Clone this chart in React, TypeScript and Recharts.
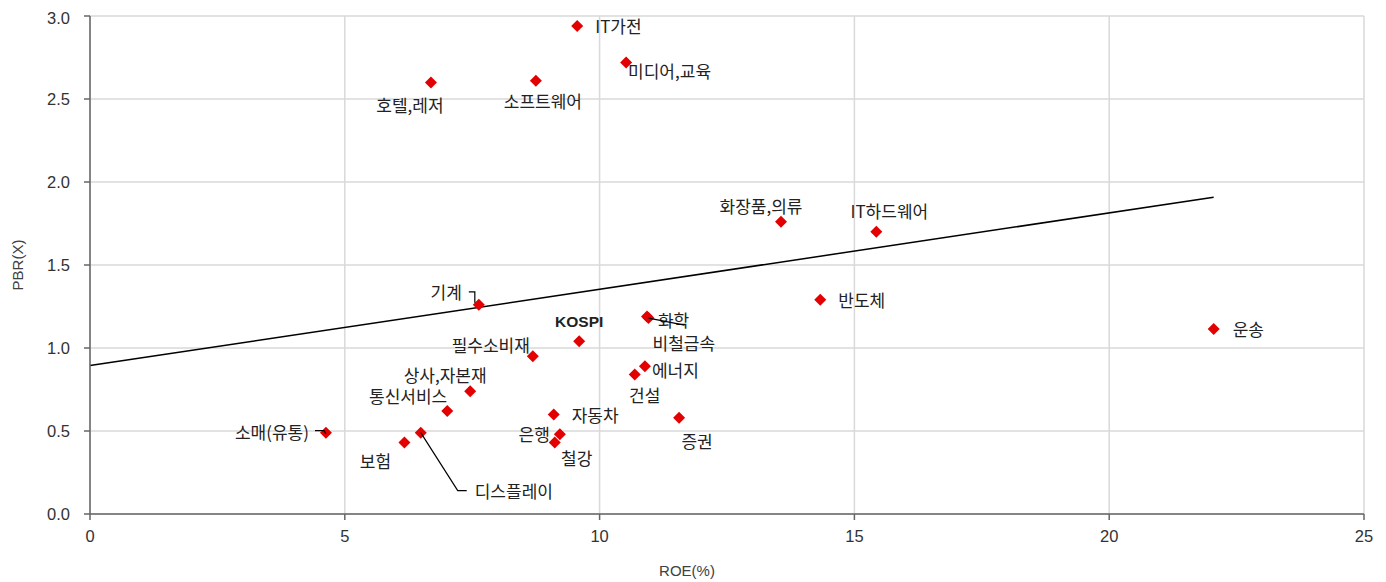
import { ScatterChart, Scatter, XAxis, YAxis, CartesianGrid, ReferenceLine } from 'recharts';

// 업종별 ROE(%) vs PBR(X)
const names = [
  'IT가전', '미디어,교육', '소프트웨어', '호텔,레저', '화장품,의류', 'IT하드웨어', '반도체', '운송',
  '기계', '화학', '비철금속', 'KOSPI', '필수소비재', '에너지', '건설', '상사,자본재',
  '통신서비스', '자동차', '증권', '은행', '철강', '보험', '소매(유통)', '디스플레이',
];
const roe = [
  9.56, 10.52, 8.75, 6.69, 13.56, 15.43, 14.33, 22.05,
  7.63, 10.93, 10.96, 9.6, 8.69, 10.89, 10.69, 7.46,
  7.01, 9.1, 11.56, 9.22, 9.12, 6.17, 4.63, 6.49,
];
const pbr = [
  2.94, 2.72, 2.61, 2.6, 1.76, 1.7, 1.29, 1.115,
  1.26, 1.19, 1.18, 1.04, 0.95, 0.89, 0.84, 0.74,
  0.62, 0.6, 0.58, 0.48, 0.43, 0.43, 0.49, 0.49,
];
const trendX = [0, 22.05];
const trendY = [0.894, 1.908];
const xTicks = [0, 5, 10, 15, 20, 25];
const yTicks = [0, 0.5, 1, 1.5, 2, 2.5, 3];

const data = names.map((name, i) => ({ name, x: roe[i], y: pbr[i] }));

type Pos = { dx: number; dy: number; anchor: 'start' | 'middle' | 'end'; leader?: number[][] };

// label placement relative to each point
const labelPos: Record<string, Pos> = {
  'IT가전': { dx: 18, dy: 0, anchor: 'start' },
  '미디어,교육': { dx: 2, dy: 8, anchor: 'start' },
  '소프트웨어': { dx: 7, dy: 20, anchor: 'middle' },
  '호텔,레저': { dx: -21, dy: 22, anchor: 'middle' },
  '화장품,의류': { dx: -20, dy: -16, anchor: 'middle' },
  'IT하드웨어': { dx: 13, dy: -21, anchor: 'middle' },
  '반도체': { dx: 18, dy: 0, anchor: 'start' },
  '운송': { dx: 19, dy: 0, anchor: 'start' },
  '기계': { dx: -17, dy: -13, anchor: 'end', leader: [[-10, -13], [-4, -13], [-4, -2]] },
  '화학': { dx: 11, dy: 3, anchor: 'start' },
  '비철금속': { dx: 4, dy: 24, anchor: 'start', leader: [[0, 0], [36, 7]] },
  'KOSPI': { dx: 0, dy: -20, anchor: 'middle' },
  '필수소비재': { dx: -3, dy: -12, anchor: 'end' },
  '에너지': { dx: 7, dy: 3, anchor: 'start' },
  '건설': { dx: 10, dy: 20, anchor: 'middle' },
  '상사,자본재': { dx: -25, dy: -17, anchor: 'middle' },
  '통신서비스': { dx: 0, dy: -16, anchor: 'end' },
  '자동차': { dx: 18, dy: 0, anchor: 'start' },
  '증권': { dx: 18, dy: 23, anchor: 'middle' },
  '은행': { dx: -10, dy: -1, anchor: 'end' },
  '철강': { dx: 22, dy: 15, anchor: 'middle' },
  '보험': { dx: -29, dy: 18, anchor: 'middle' },
  '소매(유통)': { dx: -17, dy: -1, anchor: 'end', leader: [[-11, -2], [-2, -2], [0, 1]] },
  '디스플레이': { dx: 54, dy: 58, anchor: 'start', leader: [[0, 0], [37, 58], [46, 58]] },
};

const korFont = '"Noto Sans CJK KR", "Noto Sans", sans-serif';
const latFont = '"Liberation Sans", Arial, sans-serif';

function Point(props: any) {
  const { cx, cy, payload } = props;
  if (cx == null || cy == null) return null;
  const p = labelPos[payload.name];
  const s = 6;
  const isKospi = payload.name === 'KOSPI';
  return (
    <g>
      <path
        d={`M${cx},${cy - s}L${cx + s},${cy}L${cx},${cy + s}L${cx - s},${cy}Z`}
        fill="#e30000"
      />
      {p && p.leader && (
        <polyline
          points={p.leader.map(([a, b]) => `${cx + a},${cy + b}`).join(' ')}
          fill="none"
          stroke="#000"
          strokeWidth={1.2}
        />
      )}
      {p && (
        <text
          x={cx + p.dx}
          y={cy + p.dy}
          textAnchor={p.anchor}
          dominantBaseline="central"
          fontSize={isKospi ? 15.5 : 17}
          fontWeight={isKospi ? 'bold' : 'normal'}
          fontFamily={isKospi ? latFont : korFont}
          fill="#222"
        >
          {payload.name}
        </text>
      )}
    </g>
  );
}

export default function App() {
  const tickStyle = { fontSize: 16.5, fill: '#333', fontFamily: latFont };
  return (
    <div style={{ position: 'relative', width: 1370, height: 574 }}>
      <ScatterChart width={1370} height={574} margin={{ top: 8, right: 14, bottom: 0, left: 0 }}>
        <CartesianGrid stroke="#d9d9d9" strokeWidth={1.5} />
        <XAxis
          type="number"
          dataKey="x"
          domain={[0, 25]}
          ticks={xTicks}
          height={68}
          tickMargin={10}
          tick={tickStyle}
          stroke="#666"
          strokeWidth={1.5}
        />
        <YAxis
          type="number"
          dataKey="y"
          domain={[0, 3]}
          ticks={yTicks}
          width={82}
          tickMargin={14}
          tickFormatter={(v: number) => v.toFixed(1)}
          tick={tickStyle}
          stroke="#666"
          strokeWidth={1.5}
        />
        <Scatter data={data} shape={Point} isAnimationActive={false} />
        <ReferenceLine
          segment={[
            { x: trendX[0], y: trendY[0] },
            { x: trendX[1], y: trendY[1] },
          ]}
          stroke="#000"
          strokeWidth={1.5}
          ifOverflow="visible"
        />
      </ScatterChart>
      <div
        style={{
          position: 'absolute',
          left: 679,
          top: 562,
          transform: 'translate(-50%, -50%)',
          fontFamily: latFont,
          fontSize: 15,
          color: '#404040',
          whiteSpace: 'nowrap',
        }}
      >
        ROE(%)
      </div>
      <div
        style={{
          position: 'absolute',
          left: 9,
          top: 257,
          transform: 'translate(-50%, -50%) rotate(-90deg)',
          fontFamily: latFont,
          fontSize: 15,
          color: '#404040',
          whiteSpace: 'nowrap',
        }}
      >
        PBR(X)
      </div>
    </div>
  );
}
